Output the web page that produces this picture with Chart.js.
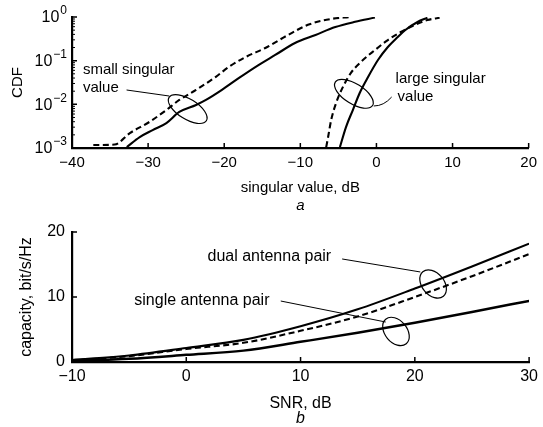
<!DOCTYPE html>
<html><head><meta charset="utf-8">
<script src="https://cdn.jsdelivr.net/npm/chart.js@4.4.1/dist/chart.umd.min.js"></script>
<style>
html,body{margin:0;padding:0;background:#fff;}
#wrap{position:relative;width:543px;height:427px;background:#fff;}
#c1{position:absolute;left:0;top:0;}
#c2{position:absolute;left:0;top:215px;}
</style></head><body>
<div id="wrap">
<canvas id="c1" width="543" height="215"></canvas>
<canvas id="c2" width="543" height="212"></canvas>
</div>
<script>
// ---------- DATA (a): CDF of singular values ----------
const svTicks  = [-40, -30, -20, -10, 0, 10, 20];
const cdfTicks = [1e-3, 1e-2, 1e-1, 1];

const smallDashedX   = [-37.2, -34.4, -32.4, -29.8, -27.6, -25.9, -23.7, -21.1, -19.4, -17.2, -14.6, -11.6, -9.0, -6.0, -3.5];
const smallDashedCDF = [0.00117, 0.0012, 0.00219, 0.00398, 0.00741, 0.0126, 0.0214, 0.0427, 0.0716, 0.121, 0.195, 0.389, 0.661, 0.90, 1.0];

const smallSolidX    = [-32.8, -31.1, -29.4, -27.6, -25.9, -23.7, -22.4, -20.3, -18.1, -15.5, -13.3, -10.7, -8.0, -5.4, -2.8, -0.2];
const smallSolidCDF  = [0.00105, 0.00178, 0.00257, 0.00372, 0.00668, 0.00966, 0.0126, 0.0214, 0.0398, 0.0794, 0.135, 0.254, 0.389, 0.589, 0.776, 0.97];

const largeDashedX   = [-6.6, -6.35, -5.95, -5.3, -4.4, -3.35, -2.05, -0.2, 1.5, 3.2, 5.0, 6.7, 8.3];
const largeDashedCDF = [0.00105, 0.00178, 0.00437, 0.0107, 0.0251, 0.0525, 0.0933, 0.175, 0.297, 0.454, 0.656, 0.853, 0.96];

const largeSolidX    = [-4.8, -4.0, -3.1, -2.2, -1.1, 0.2, 1.5, 2.8, 3.8, 5.4, 6.7];
const largeSolidCDF  = [0.00105, 0.00302, 0.00741, 0.0182, 0.0423, 0.1035, 0.2056, 0.348, 0.504, 0.769, 0.96];

// ---------- DATA (b): capacity vs SNR ----------
const snrTicks = [-10, 0, 10, 20, 30];
const capTicks = [0, 10, 20];
const snr         = [-10, -5, 0, 5, 10, 15, 20, 25, 30];
const dualSolid   = [0.3, 1.0, 2.15, 3.4, 5.5, 8.1, 11.3, 14.7, 18.2];
const dualDashed  = [0.25, 0.9, 2.0, 2.95, 4.8, 7.0, 10.0, 13.2, 16.6];
const singleSolid = [0.15, 0.5, 1.1, 1.75, 3.1, 4.5, 6.05, 7.7, 9.4];

// ---------- ANNOTATIONS (data coordinates) ----------
const annTop = {
  texts: [
    {t: 'small singular', x: -38.57, y: 0.0611},
    {t: 'value',          x: -38.57, y: 0.02366},
    {t: 'large singular', x: 2.52,   y: 0.0380},
    {t: 'value',          x: 2.78,   y: 0.01472}
  ],
  ellipses: [
    {x: -24.8, y: 0.0078, a: 22, b: 10, rot: 32},
    {x: -2.96, y: 0.0174, a: 22, b: 10, rot: 32}
  ],
  leaders: [
    {p: [[-32.83, 0.0213], [-27.22, 0.0155]]},
    {p: [[-0.35, 0.00916], [0.96, 0.00916], [2.0, 0.0147]]}
  ],
  sub: 'a', font: 15
};
const annBot = {
  texts: [
    {t: 'dual antenna pair',   x: 1.86,  y: 16.15},
    {t: 'single antenna pair', x: -4.55, y: 9.38}
  ],
  ellipses: [
    {x: 21.6,  y: 12.0, a: 16, b: 11, rot: 50},
    {x: 18.35, y: 4.7,  a: 16, b: 11, rot: 50}
  ],
  leaders: [
    {p: [[13.64, 15.85], [20.48, 13.85]]},
    {p: [[8.27, 9.38], [17.45, 6.15]]}
  ],
  sub: 'b', font: 16
};

const FONT = "'Liberation Sans', Arial, Helvetica, sans-serif";
Chart.defaults.font.family = FONT;
Chart.defaults.color = '#000';

const minus = v => (v < 0 ? '\u2212' + Math.abs(v) : '' + v);

function line(label, xs, ys, dashed, w) {
  return {
    label, data: xs.map((x, i) => ({x, y: ys[i]})),
    borderColor: '#000', borderWidth: w || 2.1,
    borderDash: dashed ? [6, 3.5] : [],
    pointRadius: 0, fill: false, cubicInterpolationMode: 'monotone'
  };
}

function annotPlugin(id, ann, subY, logMinor) {
  return {
    id,
    afterDraw(chart) {
      const ctx = chart.ctx, xs = chart.scales.x, ys = chart.scales.y, A = chart.chartArea;
      ctx.save();
      ctx.strokeStyle = '#000'; ctx.fillStyle = '#000';
      // inward tick marks
      ctx.lineWidth = 1.5;
      ctx.beginPath();
      xs.ticks.forEach(t => {
        const px = xs.getPixelForValue(t.value);
        ctx.moveTo(px, A.bottom); ctx.lineTo(px, A.bottom - 5);
      });
      ys.ticks.forEach(t => {
        const py = ys.getPixelForValue(t.value);
        ctx.moveTo(A.left, py); ctx.lineTo(A.left + 5, py);
      });
      ctx.stroke();
      if (logMinor) {
        ctx.lineWidth = 1;
        ctx.beginPath();
        for (let k = -3; k < 0; k++) for (let m = 2; m < 10; m++) {
          const py = ys.getPixelForValue(m * Math.pow(10, k));
          ctx.moveTo(A.left, py); ctx.lineTo(A.left + 3, py);
        }
        ctx.stroke();
        // y tick labels 10^k
        cdfTicks.forEach(v => {
          const k = Math.round(Math.log10(v));
          const py = ys.getPixelForValue(v);
          ctx.font = '16px ' + FONT;
          const wb = ctx.measureText('10').width;
          const ex = k === 0 ? '0' : '\u2212' + (-k);
          ctx.font = '12px ' + FONT;
          const we = ctx.measureText(ex).width;
          const x0 = A.left - 5 - we - wb - 1;
          ctx.textAlign = 'left'; ctx.textBaseline = 'middle';
          ctx.font = '16px ' + FONT;
          ctx.fillText('10', x0, py + 1);
          ctx.font = '12px ' + FONT;
          ctx.fillText(ex, x0 + wb + 1, py - 6);
        });
      }
      // ellipses
      ctx.lineWidth = 1.2;
      ann.ellipses.forEach(e => {
        ctx.beginPath();
        ctx.ellipse(xs.getPixelForValue(e.x), ys.getPixelForValue(e.y), e.a, e.b, e.rot * Math.PI / 180, 0, 2 * Math.PI);
        ctx.stroke();
      });
      // leaders
      ctx.lineWidth = 1;
      ann.leaders.forEach(l => {
        const p = l.p.map(q => [xs.getPixelForValue(q[0]), ys.getPixelForValue(q[1])]);
        ctx.beginPath();
        ctx.moveTo(p[0][0], p[0][1]);
        if (p.length === 3) ctx.quadraticCurveTo(p[1][0], p[1][1], p[2][0], p[2][1]);
        else ctx.lineTo(p[1][0], p[1][1]);
        ctx.stroke();
      });
      // texts
      ctx.font = ann.font + 'px ' + FONT;
      ctx.textAlign = 'left'; ctx.textBaseline = 'middle';
      ann.texts.forEach(t => ctx.fillText(t.t, xs.getPixelForValue(t.x), ys.getPixelForValue(t.y)));
      // sub-figure letter
      ctx.font = 'italic ' + ann.font + 'px ' + FONT;
      ctx.textAlign = 'center';
      ctx.fillText(ann.sub, (A.left + A.right) / 2, subY);
      ctx.restore();
    }
  };
}

const border = {display: true, color: '#000', width: 2.2};

// ---------- (a) ----------
new Chart(document.getElementById('c1'), {
  type: 'line',
  data: {datasets: [
    line('small dashed', smallDashedX, smallDashedCDF, true),
    line('small solid',  smallSolidX,  smallSolidCDF,  false),
    line('large dashed', largeDashedX, largeDashedCDF, true),
    line('large solid',  largeSolidX,  largeSolidCDF,  false)
  ]},
  options: {
    responsive: false, animation: false,
    layout: {padding: {left: 0, right: 11, top: 17, bottom: 0}},
    plugins: {legend: {display: false}, tooltip: {enabled: false}},
    scales: {
      x: {
        type: 'linear', min: -40, max: 20,
        afterBuildTicks: s => { s.ticks = svTicks.map(v => ({value: v})); },
        ticks: {font: {size: 15}, padding: 6, maxRotation: 0, autoSkip: false, callback: v => minus(v)},
        grid: {display: false, drawTicks: false}, border,
        title: {display: true, text: 'singular value, dB', font: {size: 15}, padding: {top: 0, bottom: 18}},
        afterFit: s => { s.height = 67; }
      },
      y: {
        type: 'logarithmic', min: 1e-3, max: 1,
        afterBuildTicks: s => { s.ticks = cdfTicks.map(v => ({value: v})); },
        ticks: {display: false},
        grid: {display: false, drawTicks: false}, border,
        title: {display: true, text: 'CDF', font: {size: 15}, padding: {top: 9, bottom: 0}},
        afterFit: s => { s.width = 72; }
      }
    }
  },
  plugins: [annotPlugin('annTop', annTop, 206, true)]
});

// ---------- (b) ----------
new Chart(document.getElementById('c2'), {
  type: 'line',
  data: {datasets: [
    line('dual solid',   snr, dualSolid,   false),
    line('dual dashed',  snr, dualDashed,  true),
    line('single solid', snr, singleSolid, false, 2.5)
  ]},
  options: {
    responsive: false, animation: false,
    layout: {padding: {left: 0, right: 9, top: 17, bottom: 0}},
    plugins: {legend: {display: false}, tooltip: {enabled: false}},
    scales: {
      x: {
        type: 'linear', min: -10, max: 30,
        afterBuildTicks: s => { s.ticks = snrTicks.map(v => ({value: v})); },
        ticks: {font: {size: 16}, padding: 5, maxRotation: 0, autoSkip: false, callback: v => minus(v)},
        grid: {display: false, drawTicks: false}, border,
        title: {display: true, text: 'SNR, dB', font: {size: 16}, padding: {top: 0, bottom: 14}},
        afterFit: s => { s.height = 65; }
      },
      y: {
        type: 'linear', min: 0, max: 20,
        afterBuildTicks: s => { s.ticks = capTicks.map(v => ({value: v})); },
        ticks: {font: {size: 16}, padding: 7, callback: v => '' + v},
        grid: {display: false, drawTicks: false}, border,
        title: {display: true, text: 'capacity, bit/s/Hz', font: {size: 16}, padding: {top: 17, bottom: 0}},
        afterFit: s => { s.width = 72; }
      }
    }
  },
  plugins: [annotPlugin('annBot', annBot, 204, false)]
});
</script>
</body></html>
